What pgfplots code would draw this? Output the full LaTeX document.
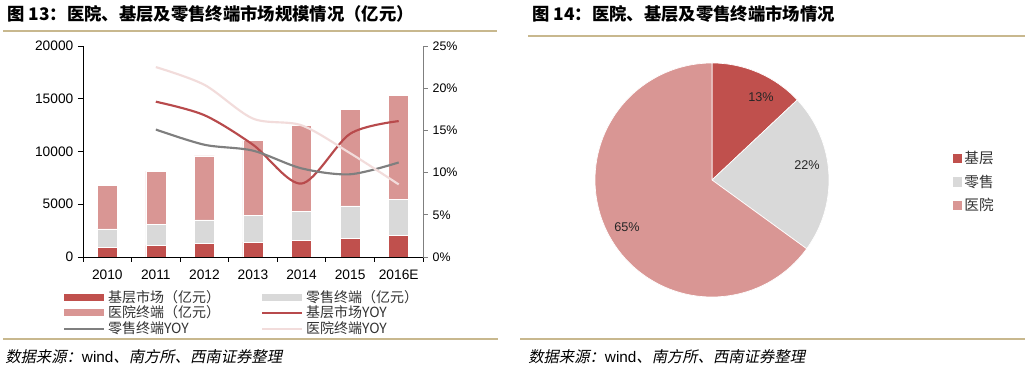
\documentclass[border=0pt]{standalone}
\usepackage{fontspec}
\setmainfont{Liberation Sans}
\newfontfamily\cjk{Noto Sans CJK SC}
\newfontfamily\cjkit{Noto Sans CJK SC}[FakeSlant=0.2]
\usepackage{pgfplots}
\pgfplotsset{compat=1.18}
\definecolor{jc}{HTML}{C0504D}
\definecolor{ls}{HTML}{D9D9D9}
\definecolor{yy}{HTML}{D99694}
\definecolor{jcl}{HTML}{B84A4C}
\definecolor{lsl}{HTML}{7F7F7F}
\definecolor{yyl}{HTML}{F2DCDB}
\definecolor{rulec}{HTML}{C8B88E}
\definecolor{txt}{HTML}{333333}
\pgfplotsset{
  barleg/.style={legend image code/.code={\fill[##1, draw=none] (0pt,-2.6pt) rectangle (30pt,2.6pt);}},
  linleg/.style={legend image code/.code={\draw[##1] (0pt,0pt) -- (30pt,0pt);}},
  sqleg/.style={legend image code/.code={\fill[##1, draw=none] (0pt,-3.4pt) rectangle (6.75pt,3.4pt);}},
}
\begin{document}
\begin{tikzpicture}
\begin{scope}[x=0.75pt,y=-0.75pt]
\fill[white] (0,0) rectangle (1031,373);
\coordinate (LA) at (83,257);
\coordinate (PC) at (712,180);
\draw[rulec, line width=1.5pt] (3,31) -- (497,31);
\draw[rulec, line width=1.5pt] (528,36) -- (1025,36);
\draw[rulec, line width=1.5pt] (3,339) -- (498,339);
\draw[rulec, line width=1.5pt] (520,339) -- (1025,339);
\node[anchor=west, inner sep=0pt, font=\cjk\bfseries\fontsize{13}{15}\selectfont] at (7,14) {图 13：医院、基层及零售终端市场规模情况（亿元）};
\node[anchor=west, inner sep=0pt, font=\cjk\bfseries\fontsize{13}{15}\selectfont] at (532,14) {图 14：医院、基层及零售终端市场情况};
\node[anchor=west, inner sep=0pt, font=\cjkit\fontsize{11.5}{13}\selectfont] at (5,357) {数据来源：{\rmfamily wind}、南方所、西南证券整理};
\node[anchor=west, inner sep=0pt, font=\cjkit\fontsize{11.5}{13}\selectfont] at (528,357) {数据来源：{\rmfamily wind}、南方所、西南证券整理};
\end{scope}

% ---- left: bars ----
\begin{axis}[
  at={(LA)}, anchor=south west, scale only axis,
  width=255pt, height=158.25pt,
  xmin=-0.5, xmax=6.5, ymin=0, ymax=20000,
  axis y line*=left, axis x line*=bottom,
  xtick={-0.5,0.5,1.5,2.5,3.5,4.5,5.5,6.5},
  xticklabels={2010,2011,2012,2013,2014,2015,2016E},
  x tick label as interval,
  xticklabel style={yshift=-2.5pt},
  ytick={0,5000,10000,15000,20000},
  tick align=outside, major tick length=3.75pt,
  scaled y ticks=false,
  /pgf/number format/1000 sep={},
  /pgf/number format/assume math mode=true,
  tick label style={font=\fontsize{10.3}{12}\selectfont, text=black},
  axis line style={black, line width=0.6pt},
  tick style={black, line width=0.6pt},
  ybar stacked, bar width=15pt,
]
\addplot[fill=jc, draw=white, line width=0.4pt] coordinates {(0,890) (1,1100) (2,1270) (3,1420) (4,1550) (5,1740) (6,2060)};
\addplot[fill=ls, draw=white, line width=0.4pt] coordinates {(0,1770) (1,2000) (2,2240) (3,2540) (4,2790) (5,3100) (6,3380)};
\addplot[fill=yy, draw=white, line width=0.4pt] coordinates {(0,4110) (1,5030) (2,6080) (3,7080) (4,8160) (5,9150) (6,9910)};
\end{axis}

% ---- left: YOY lines ----
\begin{axis}[
  at={(LA)}, anchor=south west, scale only axis,
  width=255pt, height=158.25pt,
  xmin=-0.5, xmax=6.5, ymin=0, ymax=25,
  axis x line=none, axis y line*=right,
  ytick={0,5,10,15,20,25},
  yticklabel={\pgfmathprintnumber{\tick}\%},
  tick align=outside, major tick length=3.75pt,
  /pgf/number format/assume math mode=true,
  tick label style={font=\fontsize{9.3}{11}\selectfont, text=black},
  y axis line style={lsl, line width=0.6pt},
  ytick style={lsl, line width=0.6pt},
  legend columns=2,
  legend cell align=left,
  legend style={at={(-0.059,-0.143)}, anchor=north west, draw=none, fill=none,
    inner sep=0pt, font=\cjk\fontsize{10.5}{12}\selectfont, text=txt,
    /tikz/every even column/.append style={column sep=29pt},
    row sep=-2.6pt},
]
\addlegendimage{barleg, fill=jc}
\addlegendentry{基层市场（亿元）}
\addlegendimage{barleg, fill=ls}
\addlegendentry{零售终端（亿元）}
\addlegendimage{barleg, fill=yy}
\addlegendentry{医院终端（亿元）}
\addlegendimage{linleg, jcl, line width=1.6pt}
\addlegendentry{基层市场YOY}
\addlegendimage{linleg, lsl, line width=1.6pt}
\addlegendentry{零售终端YOY}
\addlegendimage{linleg, yyl, line width=1.6pt}
\addlegendentry{医院终端YOY}
\addplot[jcl, line width=1.6pt, smooth, forget plot] coordinates {(1,18.4) (2,16.8) (3,13.3) (4,8.7) (5,14.6) (6,16.1)};
\addplot[lsl, line width=1.6pt, smooth, forget plot] coordinates {(1,15.1) (2,13.3) (3,12.6) (4,10.5) (5,9.8) (6,11.2)};
\addplot[yyl, line width=1.6pt, smooth, forget plot] coordinates {(1,22.5) (2,20.4) (3,16.4) (4,15.6) (5,12.3) (6,8.6)};
\end{axis}

% ---- right: pie ----
\def\pieA{13}\def\pieB{22}\def\pieC{65}
\begin{axis}[
  at={(PC)}, anchor=center,
  x=87.75pt, y=87.75pt,
  xmin=-1.2, xmax=1.2, ymin=-1.2, ymax=1.2,
  hide axis, clip=false,
  legend style={at={(1.3565,0.613)}, anchor=north west, draw=none, fill=none,
    inner sep=0pt, font=\cjk\fontsize{11}{13}\selectfont, text=txt, row sep=3pt},
  legend cell align=left,
]
\addlegendimage{sqleg, fill=jc}
\addlegendentry{基层}
\addlegendimage{sqleg, fill=ls}
\addlegendentry{零售}
\addlegendimage{sqleg, fill=yy}
\addlegendentry{医院}
\pgfmathsetmacro{\aA}{90}
\pgfmathsetmacro{\aB}{90-3.6*\pieA}
\pgfmathsetmacro{\aC}{\aB-3.6*\pieB}
\pgfmathsetmacro{\aD}{\aC-3.6*\pieC}
\fill[jc, draw=white, line width=0.5pt] (axis cs:0,0) -- ++(\aA:87.75pt) arc[start angle=\aA, end angle=\aB, radius=87.75pt] -- cycle;
\fill[ls, draw=white, line width=0.5pt] (axis cs:0,0) -- ++(\aB:87.75pt) arc[start angle=\aB, end angle=\aC, radius=87.75pt] -- cycle;
\fill[yy, draw=white, line width=0.5pt] (axis cs:0,0) -- ++(\aC:87.75pt) arc[start angle=\aC, end angle=\aD, radius=87.75pt] -- cycle;
\node[font=\fontsize{9.5}{11}\selectfont, text=black!85] at (axis cs:0.419,0.709) {13\%};
\node[font=\fontsize{9.5}{11}\selectfont, text=black!85] at (axis cs:0.812,0.128) {22\%};
\node[font=\fontsize{9.5}{11}\selectfont, text=black!85] at (axis cs:-0.726,-0.402) {65\%};
\end{axis}
\end{tikzpicture}
\end{document}
